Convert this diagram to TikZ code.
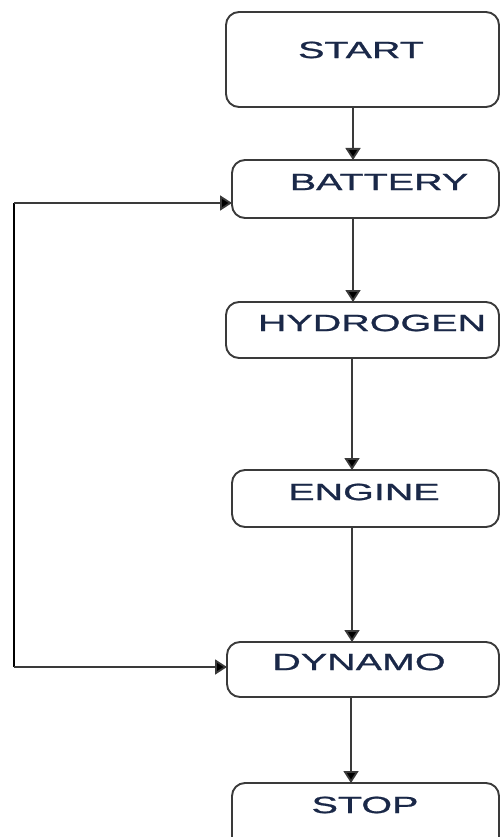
\documentclass[tikz,border=0pt]{standalone}
\usepackage{fontspec}
\setmainfont{Liberation Sans}
\newfontfamily\lblfont[FakeBold=0.8]{Liberation Sans}
\usetikzlibrary{arrows.meta,positioning}
\definecolor{linec}{HTML}{3A3A3A}
\definecolor{textc}{HTML}{1A2848}
\begin{document}
\begin{tikzpicture}[x=1pt,y=-1pt,
  boxstyle/.style={draw=linec,line width=1.9pt,rounded corners=13pt,fill=white},
  lbl/.style={font=\lblfont\fontsize{23.5}{23.5}\selectfont,text=textc,inner sep=0pt,anchor=center},
  arr/.style={draw=linec,line width=1.8pt,-{Triangle[length=12pt,width=15pt,fill=black]}}]
\useasboundingbox (0,0) rectangle (501,837);
% boxes
\draw[boxstyle] (226,12) rectangle (499,107);
\draw[boxstyle] (232,160) rectangle (499,218);
\draw[boxstyle] (226,302) rectangle (499,358);
\draw[boxstyle] (232,470) rectangle (499,527);
\draw[boxstyle] (227,642) rectangle (499,697);
\draw[boxstyle] (232,783) rectangle (499,860);
% anchor points
\coordinate (startb) at (353,107);
\coordinate (battt) at (353,160);
\coordinate (battb) at (353,218);
\coordinate (battl) at (232,203);
\coordinate (hydt) at (353,302);
\coordinate (hydb) at (352,358);
\coordinate (engt) at (352,470);
\coordinate (engb) at (352,527);
\coordinate (dynt) at (352,642);
\coordinate (dynb) at (351,697);
\coordinate (dynl) at (227,667);
\coordinate (stopt) at (351,783);
\coordinate (cornA) at (14,667);
\coordinate (cornB) at (14,203);
% labels
\node[lbl] (start) at (361,50) {\scalebox{1.68}[1]{START}};
\node[lbl] (battery) at (379,182) {\scalebox{1.68}[1]{BATTERY}};
\node[lbl] (hydrogen) at (372,323) {\scalebox{1.68}[1]{HYDROGEN}};
\node[lbl] (engine) at (364,492) {\scalebox{1.68}[1]{ENGINE}};
\node[lbl] (dynamo) at (359,662) {\scalebox{1.68}[1]{DYNAMO}};
\node[lbl] (stop) at (365,805) {\scalebox{1.68}[1]{STOP}};
% connectors
\draw[arr] (startb) -- (battt);
\draw[arr] (battb) -- (hydt);
\draw[arr] (hydb) -- (engt);
\draw[arr] (engb) -- (dynt);
\draw[arr] (dynb) -- (stopt);
\draw[draw=black,line width=2.6pt] (cornA) -- (cornB);
\draw[arr] (cornB) -- (battl);
\draw[arr] (cornA) -- (dynl);
\end{tikzpicture}
\end{document}
